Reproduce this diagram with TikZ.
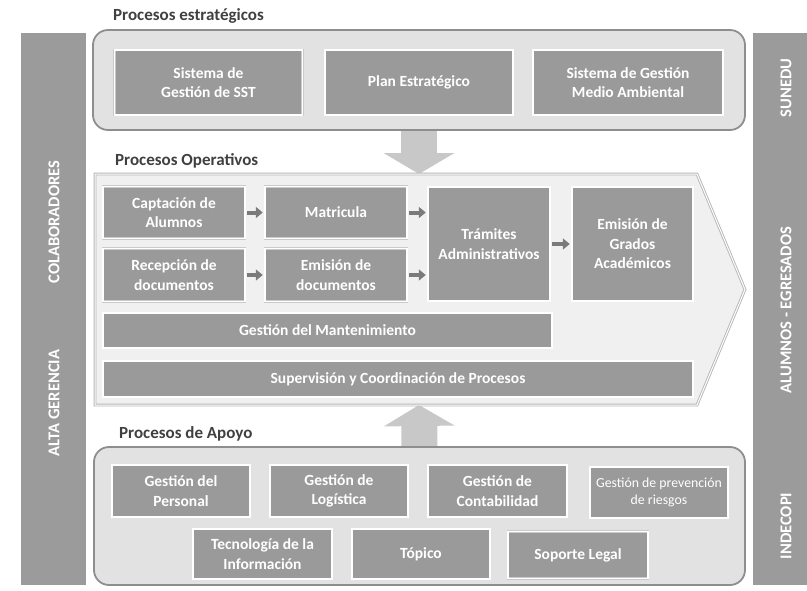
\documentclass[tikz,border=0pt]{standalone}
\usepackage{fontspec}
\setmainfont{Carlito}
\usetikzlibrary{arrows.meta,backgrounds}
\definecolor{boxgray}{HTML}{9A9A9A}
\definecolor{bargray}{HTML}{9B9B9B}
\definecolor{contfill}{HTML}{E2E2E2}
\definecolor{contedge}{HTML}{8E8E8E}
\definecolor{pentfill}{HTML}{F0F0F0}
\definecolor{pentedge}{HTML}{B6B6B6}
\definecolor{bigarr}{HTML}{C8C8C8}
\definecolor{smallarr}{HTML}{7A7A7A}
\definecolor{titletext}{HTML}{404040}
\definecolor{boxedge}{HTML}{CACACA}
\begin{document}
\begin{tikzpicture}[x=1pt,y=-1pt,
  procbox/.style={rectangle, fill=boxgray, draw=boxedge, double=white,
    double distance=1.4pt, line width=0.5pt, text=white,
    font=\bfseries\fontsize{15.5}{19.5}\selectfont, align=center, inner sep=0pt},
  smallfont/.style={font=\fontsize{13.8}{17}\selectfont},
  container/.style={rectangle, rounded corners=15pt, fill=contfill, draw=contedge, line width=1.8pt, inner sep=0pt},
  sidebar/.style={rectangle, fill=bargray, inner sep=0pt},
  sidelabel/.style={rotate=90, text=white, font=\bfseries\fontsize{16.5}{18}\selectfont, inner sep=0pt},
  sectitle/.style={anchor=base west, text=titletext, font=\bfseries\fontsize{17}{20}\selectfont, inner sep=0pt},
  bigarrow/.style={draw=bigarr, line width=36pt, -{Triangle[length=21pt,width=70pt]}},
  flowarrow/.style={draw=smallarr, line width=4pt, -{Triangle[length=7pt,width=11pt]}, shorten <=2pt, shorten >=2pt}
]
\useasboundingbox (0,0) rectangle (807,590);

% side bars
\node[sidebar, minimum width=65pt, minimum height=552pt] (lbar) at (53.5,309) {};
\node[sidebar, minimum width=54pt, minimum height=552pt, anchor=west] (rbar) at (753,309) {};
\node[sidelabel] (colab) at (54,222) {COLABORADORES};
\node[sidelabel] (alta) at (54,403) {ALTA GERENCIA};
\node[sidelabel] (sunedu) at (786,88) {SUNEDU};
\node[sidelabel] (alum) at (786,310) {ALUMNOS - EGRESADOS};
\node[sidelabel] (indecopi) at (786,526) {INDECOPI};

% section titles
\node[sectitle] (tstrat) at (113,20) {Procesos estratégicos};
\node[sectitle] (toper) at (115,165) {Procesos Operativos};
\node[sectitle] (tapoyo) at (119,438) {Procesos de Apoyo};

% strategic container
\node[container, minimum width=652pt, minimum height=100pt] (strat) at (419,80) {};
\node[procbox, minimum width=188pt, minimum height=65pt] (sst) at (208.5,82.5) {Sistema de\\Gestión de SST};
\node[procbox, minimum width=188pt, minimum height=65pt] (plan) at (419,82.5) {Plan Estratégico};
\node[procbox, minimum width=190pt, minimum height=65pt] (ambiental) at (628,82.5) {Sistema de Gestión\\Medio Ambiental};

% operative pentagon
\draw[draw=pentedge, double=white, double distance=1pt, line width=0.9pt, fill=pentfill]
  (95,174) -- (697,174) -- (745,289.5) -- (697,405) -- (95,405) -- cycle;
\coordinate (opTop) at (419,174);
\coordinate (opBot) at (419,405);

\node[procbox, minimum width=142pt, minimum height=52pt] (capt) at (174,212.5) {Captación de\\Alumnos};
\node[procbox, minimum width=142pt, minimum height=52pt] (matr) at (336,212.5) {Matricula};
\node[procbox, minimum width=142pt, minimum height=53pt] (recep) at (174,275) {Recepción de\\documentos};
\node[procbox, minimum width=142pt, minimum height=53pt] (emdoc) at (336,275) {Emisión de\\documentos};
\node[procbox, minimum width=122pt, minimum height=114pt] (tram) at (489,244) {Trámites\\Administrativos};
\node[procbox, minimum width=121pt, minimum height=114pt] (grados) at (632.5,244) {Emisión de\\Grados\\Académicos};
\node[procbox, minimum width=449pt, minimum height=35pt] (mant) at (327.5,330.5) {Gestión del Mantenimiento};
\node[procbox, minimum width=590pt, minimum height=36pt] (superv) at (398,379) {Supervisión y Coordinación de Procesos};

\draw[flowarrow] (capt.east) -- (matr.west);
\draw[flowarrow] (recep.east) -- (emdoc.west);
\draw[flowarrow] (matr.east) -- (matr.east -| tram.west);
\draw[flowarrow] (emdoc.east) -- (emdoc.east -| tram.west);
\draw[flowarrow] (tram.east) -- (tram.east -| grados.west);

% support container
\node[container, minimum width=651pt, minimum height=138pt] (apoyo) at (419.5,516) {};
\node[procbox, minimum width=138pt, minimum height=52pt] (pers) at (181,491) {Gestión del\\Personal};
\node[procbox, minimum width=138pt, minimum height=52pt] (logi) at (339,491) {Gestión de\\Logística};
\node[procbox, minimum width=139pt, minimum height=52pt] (conta) at (497.5,491) {Gestión de\\Contabilidad};
\node[procbox, smallfont, minimum width=138pt, minimum height=51pt] (prev) at (659,492.5) {Gestión de prevención\\de riesgos};
\node[procbox, minimum width=139pt, minimum height=50pt] (tec) at (262.5,554) {Tecnología de la\\Información};
\node[procbox, minimum width=138pt, minimum height=50pt] (topi) at (421,554) {Tópico};
\node[procbox, minimum width=140pt, minimum height=47pt] (legal) at (578,555) {Soporte Legal};

% big block arrows
\begin{scope}[on background layer]
\draw[bigarrow] (strat.south) -- (opTop);
\draw[bigarrow] (apoyo.north) -- (opBot);
\end{scope}
\end{tikzpicture}
\end{document}
